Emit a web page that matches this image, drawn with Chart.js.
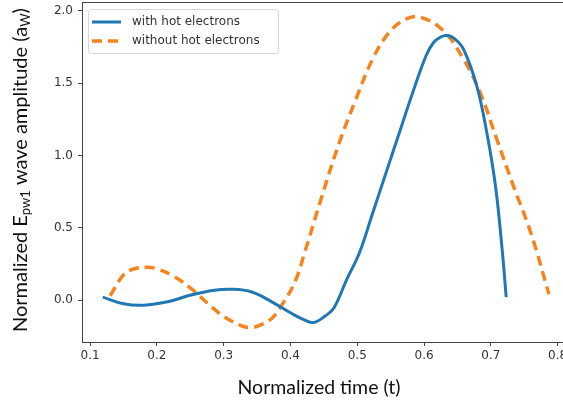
<!DOCTYPE html>
<html>
<head>
<meta charset="utf-8">
<script src="https://cdn.jsdelivr.net/npm/chart.js@4/dist/chart.umd.min.js"></script>
<style>
    html, body { margin: 0; padding: 0; background: #fff; overflow: hidden; }
    #wrap { width: 563px; height: 403px; overflow: hidden; }
</style>
</head>
<body>
<div id="wrap"><canvas id="waveChart" width="575" height="403"></canvas></div>
<script>
// with hot electrons
const timeWith = [0.119, 0.150, 0.180, 0.216, 0.251, 0.286, 0.311, 0.342, 0.372, 0.402, 0.420, 0.435, 0.452, 0.465, 0.484, 0.503, 0.523, 0.543, 0.563, 0.583, 0.603, 0.614, 0.625, 0.635, 0.645, 0.659, 0.679, 0.694, 0.707, 0.717, 0.723];
const ampWith  = [0.020, -0.025, -0.035, -0.012, 0.035, 0.068, 0.075, 0.056, -0.012, -0.093, -0.135, -0.155, -0.110, -0.055, 0.140, 0.324, 0.600, 0.880, 1.157, 1.435, 1.690, 1.780, 1.820, 1.830, 1.810, 1.736, 1.480, 1.157, 0.787, 0.347, 0.020];

// without hot electrons
const timeWithout = [0.130, 0.150, 0.165, 0.185, 0.201, 0.226, 0.251, 0.276, 0.301, 0.327, 0.340, 0.352, 0.372, 0.387, 0.407, 0.422, 0.447, 0.473, 0.498, 0.523, 0.548, 0.573, 0.595, 0.629, 0.659, 0.684, 0.709, 0.734, 0.760, 0.787];
const ampWithout  = [0.030, 0.174, 0.215, 0.227, 0.215, 0.162, 0.081, -0.023, -0.116, -0.178, -0.190, -0.178, -0.127, -0.035, 0.130, 0.340, 0.717, 1.088, 1.389, 1.667, 1.852, 1.944, 1.956, 1.863, 1.667, 1.435, 1.111, 0.787, 0.463, 0.040];

const seriesLabels = ['with hot electrons', 'without hot electrons'];
const xTitle = 'Normalized time (t)';
// y title pieces: [text, isSubscript]
const yTitleParts = [['Normalized E', false], ['pw1', true], [' wave amplitude (a', false], ['W', true], [')', false]];

const toPoints = (xs, ys) => xs.map((x, i) => ({ x: x, y: ys[i] }));

const tickFont = { family: "'DejaVu Sans', sans-serif", size: 12 };
const titleFamily = "Lato, 'Open Sans', sans-serif";

// top spine of the plot (left and bottom come from the axes)
const framePlugin = {
    id: 'frame',
    afterDatasetsDraw(chart) {
        const a = chart.chartArea;
        const ctx = chart.ctx;
        ctx.save();
        ctx.strokeStyle = '#444';
        ctx.lineWidth = 1;
        ctx.beginPath();
        ctx.moveTo(a.left, a.top - 0.5);
        ctx.lineTo(a.right, a.top - 0.5);
        ctx.stroke();
        ctx.restore();
    }
};

// legend box inside the plot, upper left
const boxLegendPlugin = {
    id: 'boxLegend',
    afterDraw(chart) {
        const a = chart.chartArea;
        const ctx = chart.ctx;
        const x0 = a.left + 6, y0 = a.top + 6;
        const w = 190, h = 44;
        ctx.save();
        ctx.fillStyle = 'rgba(255,255,255,0.85)';
        ctx.strokeStyle = '#d6d6d6';
        ctx.lineWidth = 1;
        ctx.beginPath();
        ctx.roundRect(x0 + 0.5, y0 + 0.5, w, h, 3);
        ctx.fill();
        ctx.stroke();
        ctx.font = "12px 'DejaVu Sans', sans-serif";
        ctx.textBaseline = 'middle';
        chart.data.datasets.forEach((ds, i) => {
            const yy = y0 + 13 + i * 19;
            ctx.strokeStyle = ds.borderColor;
            ctx.lineWidth = ds.borderWidth;
            ctx.setLineDash(ds.borderDash || []);
            ctx.beginPath();
            ctx.moveTo(x0 + 4, yy);
            ctx.lineTo(x0 + 33, yy);
            ctx.stroke();
            ctx.setLineDash([]);
            ctx.fillStyle = '#333';
            ctx.fillText(ds.label, x0 + 44, yy);
        });
        ctx.restore();
    }
};

// axis titles: rotated y title with subscripts, x title below
const titlesPlugin = {
    id: 'axisTitles',
    afterDraw(chart) {
        const ctx = chart.ctx;
        const a = chart.chartArea;
        const big = "20px " + titleFamily, small = "13px " + titleFamily;
        ctx.save();
        // the reference is cropped on the right: keep that side of the plot open
        ctx.fillStyle = '#fff';
        ctx.fillRect(556, a.top + 1, chart.width - 556, a.bottom - a.top - 2);
        ctx.fillStyle = '#111';
        ctx.textBaseline = 'middle';
        ctx.font = "19.5px " + titleFamily;
        ctx.textAlign = 'center';
        ctx.fillText(xTitle, 319, 388);
        ctx.textAlign = 'left';
        let total = 0;
        yTitleParts.forEach(p => { ctx.font = p[1] ? small : big; total += ctx.measureText(p[0]).width; });
        ctx.translate(21, 170);
        ctx.rotate(-Math.PI / 2);
        let cx = -total / 2;
        yTitleParts.forEach(p => {
            ctx.font = p[1] ? small : big;
            ctx.fillText(p[0], cx, p[1] ? 5 : 0);
            cx += ctx.measureText(p[0]).width;
        });
        ctx.restore();
    }
};

const ctx = document.getElementById('waveChart');
new Chart(ctx.getContext('2d'), {
    type: 'line',
    data: {
        datasets: [{
            label: seriesLabels[0],
            data: toPoints(timeWith, ampWith),
            borderColor: '#1f77b4',
            borderWidth: 3,
            pointRadius: 0,
            tension: 0.4,
            fill: false
        }, {
            label: seriesLabels[1],
            data: toPoints(timeWithout, ampWithout),
            borderColor: '#f5841f',
            borderWidth: 3.5,
            borderDash: [10, 6],
            pointRadius: 0,
            tension: 0.4,
            fill: false
        }]
    },
    options: {
        responsive: false,
        animation: false,
        layout: { padding: { top: 3, right: 0, bottom: 0, left: 0 } },
        plugins: {
            legend: { display: false },
            tooltip: { enabled: false }
        },
        scales: {
            x: {
                type: 'linear',
                min: 0.0879,
                max: 0.826,
                afterFit: (scale) => { scale.height = 61; scale.paddingLeft = 0; scale.paddingRight = 0; },
                border: { display: true, color: '#444', width: 1 },
                grid: { drawOnChartArea: false, drawTicks: true, tickLength: 4, color: '#444' },
                ticks: {
                    stepSize: 0.1,
                    includeBounds: false,
                    maxRotation: 0,
                    padding: 3,
                    color: '#333',
                    font: tickFont,
                    callback: (v) => v.toFixed(1)
                }
            },
            y: {
                min: -0.29,
                max: 2.055,
                afterFit: (scale) => { scale.width = 82; scale.paddingTop = 0; scale.paddingBottom = 0; },
                border: { display: true, color: '#444', width: 1 },
                grid: { drawOnChartArea: false, drawTicks: true, tickLength: 4, color: '#444' },
                ticks: {
                    stepSize: 0.5,
                    includeBounds: false,
                    padding: 5,
                    color: '#333',
                    font: tickFont,
                    callback: (v) => v.toFixed(1)
                }
            }
        }
    },
    plugins: [framePlugin, boxLegendPlugin, titlesPlugin]
});
</script>
</body>
</html>
